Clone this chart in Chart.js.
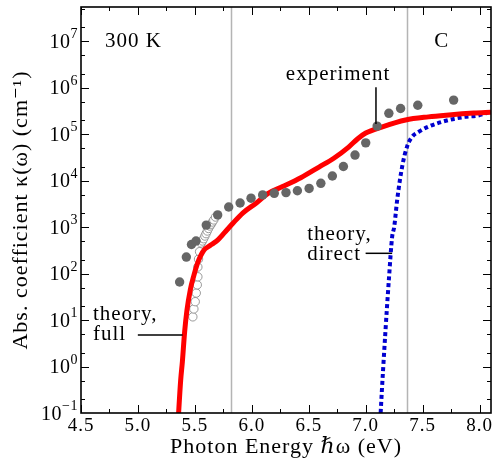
<!DOCTYPE html>
<html><head><meta charset="utf-8">
<script src="https://cdn.jsdelivr.net/npm/chart.js@4"></script>
<style>html,body{margin:0;padding:0;background:#fff}#wrap{width:496px;height:463px}</style>
</head><body><div id="wrap"><canvas id="c" width="496" height="463"></canvas></div>
<script>
// ---------- data ----------
const xTickValues = [4.5, 5.0, 5.5, 6.0, 6.5, 7.0, 7.5, 8.0];
const xMinorTicks = [4.75, 5.25, 5.75, 6.25, 6.75, 7.25, 7.75];
const yTickExponents = [-1, 0, 1, 2, 3, 4, 5, 6, 7];
const yMinorMultipliers = [2, 5];
const gapLines = [5.82, 7.36];

const theoryFullEnergy = [5.35, 5.357, 5.375, 5.39, 5.41, 5.43, 5.46, 5.49, 5.52, 5.55, 5.585, 5.62, 5.65, 5.70, 5.76, 5.83, 5.92, 6.04, 6.14, 6.27, 6.43, 6.59, 6.72, 6.85, 6.93, 7.00, 7.14, 7.35, 7.55, 7.73, 7.95, 8.1];
const theoryFullKappa  = [0.05, 0.1, 0.5, 1.26, 5.6, 16, 45, 89, 158, 240, 331, 380, 427, 525, 759, 1175, 2000, 3300, 5250, 7400, 11500, 19500, 30200, 52500, 79400, 105000, 141000, 200000, 234000, 257000, 282000, 295000];

const theoryDirectEnergy = [7.125, 7.131, 7.174, 7.203, 7.232, 7.25, 7.276, 7.32, 7.363, 7.407, 7.466, 7.553, 7.728, 7.874, 7.99, 8.093];
const theoryDirectKappa  = [0.05, 0.1, 6.2, 72, 617, 1000, 3800, 20000, 53700, 87100, 112000, 145000, 200000, 234000, 251000, 302000];

const expEnergy = [5.366, 5.425, 5.47, 5.51, 5.60, 5.70, 5.797, 5.897, 5.993, 6.095, 6.197, 6.30, 6.40, 6.503, 6.606, 6.707, 6.804, 6.906, 7.0, 7.10, 7.203, 7.306, 7.457, 7.772];
const expKappa  = [65.6, 226, 420, 500, 1100, 1820, 2690, 3280, 4170, 4900, 5310, 5500, 6030, 6760, 8710, 12500, 20000, 35300, 64600, 148000, 279000, 355000, 417000, 537000];

const expOpenEnergy = [5.482, 5.491, 5.503, 5.512, 5.521, 5.526, 5.526, 5.532, 5.541, 5.556, 5.566, 5.577, 5.588, 5.598, 5.609, 5.62, 5.631, 5.643, 5.654, 5.666, 5.681];
const expOpenKappa  = [11.7, 17.3, 24.8, 38, 57, 85, 138, 204, 295, 453, 500, 560, 640, 720, 820, 930, 1050, 1150, 1280, 1420, 1640];

const notes = [
  {text: '300 K', x: 4.71, y: 7.5e6, align: 'left'},
  {text: 'C', x: 7.667, y: 7.5e6, align: 'center'},
  {text: 'experiment', x: 6.757, y: 1.45e6, align: 'center'},
  {text: 'theory,', x: 6.486, y: 525, align: 'left'},
  {text: 'direct', x: 6.486, y: 195, align: 'left'},
  {text: 'theory,', x: 4.605, y: 10, align: 'left'},
  {text: 'full', x: 4.605, y: 3.7, align: 'left'}
];
const leaders = [
  {x1: 7.09, y1: 1.02e6, x2: 7.09, y2: 1.64e5},
  {x1: 6.999, y1: 272, x2: 7.232, y2: 272},
  {x1: 4.999, y1: 4.75, x2: 5.392, y2: 4.75}
];

// ---------- helpers ----------
const FONT = '"Liberation Serif", "DejaVu Serif", serif';
const zip = (xs, ys) => xs.map((x, i) => ({x: x, y: ys[i]}));

const decor = {
  id: 'decor',
  beforeDraw(chart) {
    chart.ctx.letterSpacing = '1px';
  },
  beforeDatasetsDraw(chart) {
    const {ctx, chartArea: a, scales: {x}} = chart;
    ctx.save();
    ctx.strokeStyle = '#b4b4b4';
    ctx.lineWidth = 1.5;
    gapLines.forEach(v => {
      const px = Math.round(x.getPixelForValue(v)) + 0.5;
      ctx.beginPath(); ctx.moveTo(px, a.top); ctx.lineTo(px, a.bottom); ctx.stroke();
    });
    ctx.restore();
  },
  afterDatasetsDraw(chart) {
    const {ctx, chartArea: a, scales: {x, y}} = chart;
    ctx.save();
    ctx.strokeStyle = '#000';
    ctx.lineWidth = 1;
    const vt = (v, len) => {
      const px = Math.round(x.getPixelForValue(v)) + 0.5;
      ctx.beginPath();
      ctx.moveTo(px, a.bottom); ctx.lineTo(px, a.bottom - len);
      ctx.moveTo(px, a.top); ctx.lineTo(px, a.top + len);
      ctx.stroke();
    };
    const ht = (v, len) => {
      const py = Math.round(y.getPixelForValue(v)) + 0.5;
      if (py < a.top || py > a.bottom) return;
      ctx.beginPath();
      ctx.moveTo(a.left, py); ctx.lineTo(a.left + len, py);
      ctx.moveTo(a.right, py); ctx.lineTo(a.right - len, py);
      ctx.stroke();
    };
    xTickValues.forEach(v => vt(v, 8));
    xMinorTicks.forEach(v => vt(v, 4));
    yTickExponents.forEach(e => {
      ht(Math.pow(10, e), 8);
      yMinorMultipliers.forEach(m => ht(m * Math.pow(10, e), 4));
    });
    ctx.lineWidth = 1.6;
    ctx.strokeRect(a.left, a.top, a.right - a.left, a.bottom - a.top);
    // y tick labels 10^n
    ctx.fillStyle = '#000';
    ctx.textBaseline = 'alphabetic';
    ctx.textAlign = 'left';
    ctx.letterSpacing = '0.5px';
    yTickExponents.forEach(e => {
      const py = y.getPixelForValue(Math.pow(10, e));
      const expStr = String(e).replace('-', '−');
      ctx.font = '14px ' + FONT;
      const ew = ctx.measureText(expStr).width;
      ctx.font = '20px ' + FONT;
      const bw = ctx.measureText('10').width;
      const right = a.left - 3;
      ctx.fillText('10', right - ew - bw, py + 6.5);
      ctx.font = '14px ' + FONT;
      ctx.fillText(expStr, right - ew, py - 3);
    });
    // annotations
    ctx.letterSpacing = '1px';
    ctx.font = '21px ' + FONT;
    notes.forEach(n => {
      ctx.textAlign = n.align;
      ctx.fillText(n.text, x.getPixelForValue(n.x), y.getPixelForValue(n.y));
    });
    ctx.lineWidth = 1.5;
    leaders.forEach(l => {
      ctx.beginPath();
      ctx.moveTo(x.getPixelForValue(l.x1), y.getPixelForValue(l.y1));
      ctx.lineTo(x.getPixelForValue(l.x2), y.getPixelForValue(l.y2));
      ctx.stroke();
    });
    ctx.restore();
  }
};

new Chart(document.getElementById('c'), {
  type: 'scatter',
  data: {
    datasets: [
      {
        label: 'experiment',
        data: zip(expEnergy, expKappa),
        pointRadius: 4.7, pointBorderWidth: 0,
        backgroundColor: '#666666', borderColor: '#666666',
        order: 0
      },
      {
        label: 'theory, full',
        type: 'line',
        data: zip(theoryFullEnergy, theoryFullKappa),
        borderColor: '#ff0000', borderWidth: 5,
        pointRadius: 0, fill: false,
        cubicInterpolationMode: 'monotone',
        borderCapStyle: 'butt', borderJoinStyle: 'round',
        clip: 0,
        order: 1
      },
      {
        label: 'theory, direct',
        type: 'line',
        data: zip(theoryDirectEnergy, theoryDirectKappa),
        borderColor: '#0000d0', borderWidth: 4,
        borderDash: [4, 3],
        pointRadius: 0, fill: false,
        cubicInterpolationMode: 'monotone',
        borderCapStyle: 'butt',
        clip: 0,
        order: 2
      },
      {
        label: 'experiment (open)',
        data: zip(expOpenEnergy, expOpenKappa),
        pointRadius: 4.2, pointBorderWidth: 0.8,
        backgroundColor: '#ffffff', borderColor: '#808080',
        order: 3
      }
    ]
  },
  options: {
    responsive: false,
    animation: false,
    devicePixelRatio: 1,
    layout: {padding: {top: 7, right: 4, left: 0, bottom: 0}},
    plugins: {legend: {display: false}, tooltip: {enabled: false}},
    scales: {
      x: {
        type: 'linear', min: 4.5, max: 8.1,
        grid: {display: false, drawTicks: false},
        border: {display: false},
        afterBuildTicks: s => { s.ticks = xTickValues.map(v => ({value: v})); },
        afterFit: s => { s.height = 50; },
        ticks: {
          padding: 2,
          color: '#000',
          font: {family: FONT, size: 19, lineHeight: 1.2},
          callback: v => Number(v).toFixed(1)
        },
        title: {
          display: true, text: 'Photon Energy ℏω (eV)', color: '#000',
          font: {family: FONT, size: 22, lineHeight: 1.2},
          padding: {top: 0, bottom: 3}
        }
      },
      y: {
        type: 'logarithmic', min: 0.1, max: 5.4e7,
        grid: {display: false, drawTicks: false},
        border: {display: false},
        afterBuildTicks: s => { s.ticks = yTickExponents.map(e => ({value: Math.pow(10, e)})); },
        afterFit: s => { s.width = 81; },
        ticks: {display: false},
        title: {
          display: true, text: 'Abs. coefficient κ(ω) (cm⁻¹)', color: '#000',
          font: {family: FONT, size: 22, lineHeight: 1.2},
          padding: {top: 8, bottom: 0}
        }
      }
    }
  },
  plugins: [decor]
});
</script>
</body></html>
